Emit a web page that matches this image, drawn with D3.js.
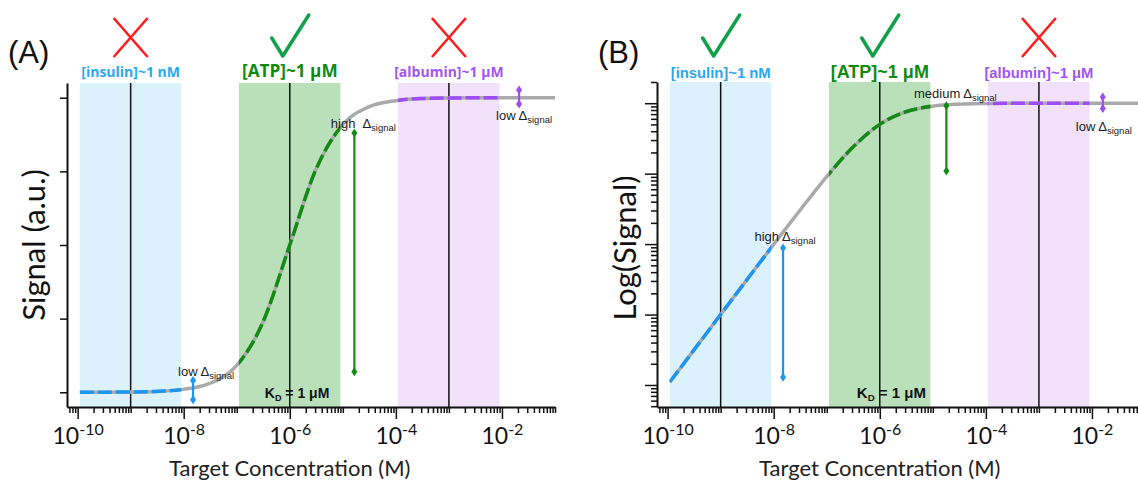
<!DOCTYPE html>
<html>
<head>
<meta charset="utf-8">
<script src="https://cdn.jsdelivr.net/npm/d3@7"></script>
<style>
  body { margin: 0; background: #fff; }
  svg { display: block; }
</style>
</head>
<body>
<div class="container"></div>
<script>
// concentration (M) and normalised signal
var conc   = [1.1e-10, 3e-10, 1e-9, 3e-9, 1e-8, 3e-8, 1e-7, 3e-7, 1e-6, 3e-6, 1e-5, 3e-5, 1e-4, 3e-4, 1e-3, 3e-3, 1e-2, 3e-2, 1e-1];
var signal = [0.00011, 0.0003, 0.001, 0.003, 0.0099, 0.029, 0.091, 0.231, 0.5, 0.75, 0.909, 0.968, 0.990, 0.997, 0.999, 0.9997, 0.9999, 1.0, 1.0];

// the three targets and their concentration windows
var targets    = ["[insulin]~1 nM", "[ATP]~1 μM", "[albumin]~1 μM"];
var targetConc = [1e-9, 1e-6, 1e-3];
var bandLow    = [1.1e-10, 1.1e-7, 1.1e-4];
var bandHigh   = [9e-9, 9e-6, 9e-3];
var verdictA   = [false, true, false];
var verdictB   = [true, true, false];

// delta signal arrows
var deltaA     = ["low", "high", "low"];
var arrowConcA = [1.5e-8, 1.65e-5, 2.1e-2];
var arrowLowA  = [-0.025, 0.07, 0.979];
var arrowHighA = [0.04, 0.88, 1.026];
var deltaB     = ["high", "medium", "low"];
var arrowConcB = [1.5e-8, 1.8e-5, 1.6e-2];
var arrowLowB  = [1.29e-4, 0.109, 0.84];
var arrowHighB = [8.8e-3, 0.92, 1.22];

var xLabelExp = [-10, -8, -6, -4, -2];
var yTicksA   = [0, 0.25, 0.5, 0.75, 1];
var KD = 1e-6;

var bandFill   = ["#dbf1fc", "#b9e0b9", "#f1e1fb"];
var lineColor  = ["#1e96f0", "#138a13", "#9d4cf8"];
var labelColor = ["#27a8f2", "#108a10", "#a055f5"];

var width = 1138, height = 483;

var svg = d3.select(".container").append("svg")
    .attr("width", width)
    .attr("height", height);

var defs = svg.append("defs");
lineColor.forEach(function(c, i) {
  defs.append("marker")
      .attr("id", "dia" + i)
      .attr("viewBox", "-5 -5 10 10")
      .attr("markerUnits", "userSpaceOnUse")
      .attr("markerWidth", 10).attr("markerHeight", 10)
      .attr("orient", "auto")
    .append("path")
      .attr("d", "M-4.5,0L0,-3L4.5,0L0,3Z")
      .attr("fill", c);
});

// all log ticks inside a domain
function logTicks(lo, hi) {
  var t = [];
  for (var e = Math.floor(Math.log10(lo)); e <= Math.ceil(Math.log10(hi)); e++)
    for (var m = 1; m < 10; m++) {
      var v = m * Math.pow(10, e);
      if (v >= lo * 0.9999 && v <= hi * 1.0001) t.push(v);
    }
  return t;
}
function isDecade(v) { return Math.abs(Math.log10(v) - Math.round(Math.log10(v))) < 1e-6; }

function panel(o) {
  var g = svg.append("g");
  var x = d3.scaleLog().domain([Math.pow(10, -10.2), 1e-1]).range([o.left, o.left + 488]);
  var y = o.y;
  var top = y.range()[1], bottom = y.range()[0];

  // shaded windows
  g.append("g").selectAll("rect").data(targets).join("rect")
      .attr("x", (d, i) => x(bandLow[i]))
      .attr("width", (d, i) => x(bandHigh[i]) - x(bandLow[i]))
      .attr("y", top).attr("height", bottom - top)
      .attr("fill", (d, i) => bandFill[i]);

  // target concentration lines
  g.append("g").selectAll("line").data(targetConc).join("line")
      .attr("x1", d => x(d)).attr("x2", d => x(d))
      .attr("y1", top).attr("y2", bottom)
      .attr("stroke", "#111").attr("stroke-width", 1.5);

  // labels above
  g.append("g").selectAll("text").data(targets).join("text")
      .attr("x", (d, i) => x(targetConc[i]))
      .attr("y", o.labelY)
      .attr("text-anchor", "middle")
      .style("font-family", o.labelFont)
      .style("font-weight", "bold")
      .style("font-size", (d, i) => (i == 1 ? o.labelSize + 3.2 : o.labelSize) + "px")
      .attr("fill", (d, i) => labelColor[i])
      .text(d => d);

  // verdict marks
  o.verdict.forEach(function(ok, i) {
    var cx = x(targetConc[i]), cy = 37;
    if (ok) {
      g.append("path")
          .attr("d", `M${cx - 18},${cy + 1}L${cx - 7},${cy + 19}L${cx + 19},${cy - 22}`)
          .attr("fill", "none").attr("stroke", "#10a04a")
          .attr("stroke-width", 3.5).attr("stroke-linejoin", "round").attr("stroke-linecap", "round");
    } else {
      g.append("path")
          .attr("d", `M${cx - 17},${cy - 19}L${cx + 17},${cy + 20}M${cx + 17},${cy - 19}L${cx - 17},${cy + 20}`)
          .attr("stroke", "#ff1c1c").attr("stroke-width", 2.6);
    }
  });

  // curve
  var line = d3.line()
      .x((d, i) => x(conc[i]))
      .y(d => y(d))
      .curve(d3.curveMonotoneX);

  g.append("path").datum(signal)
      .attr("d", line)
      .attr("fill", "none").attr("stroke", "#aaaaaa").attr("stroke-width", 3.5);

  targets.forEach(function(t, i) {
    var id = "clip" + o.name + i;
    defs.append("clipPath").attr("id", id).append("rect")
        .attr("x", x(bandLow[i])).attr("width", x(bandHigh[i]) - x(bandLow[i]))
        .attr("y", 0).attr("height", height);
    g.append("path").datum(signal)
        .attr("d", line)
        .attr("clip-path", `url(#${id})`)
        .attr("fill", "none").attr("stroke", lineColor[i])
        .attr("stroke-width", 3.5).attr("stroke-dasharray", "14,4");
  });

  // delta arrows
  g.append("g").selectAll("line").data(o.arrowConc).join("line")
      .attr("x1", d => x(d)).attr("x2", d => x(d))
      .attr("y1", (d, i) => y(o.arrowLow[i]))
      .attr("y2", (d, i) => y(o.arrowHigh[i]))
      .attr("stroke", (d, i) => lineColor[i]).attr("stroke-width", 2.2)
      .attr("marker-start", (d, i) => `url(#dia${i})`)
      .attr("marker-end", (d, i) => `url(#dia${i})`);

  var dl = g.append("g").selectAll("text").data(o.delta).join("text")
      .attr("x", (d, i) => x(o.arrowConc[i]) + o.deltaDx[i])
      .attr("y", (d, i) => o.deltaDy[i] < 0 ? y(o.arrowHigh[i]) + o.deltaDy[i] : y(o.arrowLow[i]) + o.deltaDy[i])
      .attr("text-anchor", "middle")
      .style("font-family", "'Liberation Sans', Arial, sans-serif")
      .style("font-size", "13px")
      .attr("fill", "#222");
  dl.append("tspan").text(d => d);
  dl.append("tspan").attr("dx", (d, i) => o.name == "A" && i == 1 ? 7 : 3).text("Δ");
  dl.append("tspan").attr("dy", 3).style("font-size", "9.5px").text("signal");

  // KD label
  var kd = g.append("text")
      .attr("x", x(KD) - o.kdShift).attr("y", 398)
      .style("font-family", "'Liberation Sans', Arial, sans-serif")
      .style("font-weight", "bold")
      .style("font-size", o.kdSize + "px")
      .attr("fill", "#111");
  kd.append("tspan").text("K");
  kd.append("tspan").attr("dy", 3).style("font-size", (o.kdSize * 0.65) + "px").text("D");
  kd.append("tspan").attr("dy", -3).text(" = 1 μM");

  // x axis
  var xt = logTicks(x.domain()[0], x.domain()[1]);
  var xAxis = g.append("g")
      .attr("transform", `translate(0,${bottom})`)
      .call(d3.axisBottom(x).tickValues(xt).tickFormat("").tickSize(6).tickSizeOuter(0));
  xAxis.selectAll(".tick line")
      .attr("y2", d => xLabelExp.indexOf(Math.round(Math.log10(d))) >= 0 && isDecade(d) ? 12 : 6);
  var xl = xAxis.selectAll(".tick")
      .filter(d => isDecade(d) && xLabelExp.indexOf(Math.round(Math.log10(d))) >= 0)
      .append("text")
      .attr("y", 37)
      .attr("fill", "#111")
      .attr("text-anchor", "middle")
      .style("font-family", "Lato, sans-serif")
      .style("font-size", "23px");
  xl.append("tspan").text("10");
  xl.append("tspan").attr("dy", -9).style("font-size", "16px").text(d => Math.round(Math.log10(d)));

  // y axis
  g.append("g")
      .attr("transform", `translate(${o.left},0)`)
      .call(o.yAxis);

  g.selectAll(".domain, .tick line").attr("stroke", "#111");
  g.selectAll(".domain").attr("stroke-width", 2);
  g.selectAll(".tick line").attr("stroke-width", 1.5);

  // titles
  g.append("text")
      .attr("x", x(KD)).attr("y", 476)
      .attr("text-anchor", "middle")
      .style("font-family", "Lato, sans-serif")
      .style("font-size", "22px")
      .attr("fill", "#222")
      .text("Target Concentration (M)");

  g.append("text")
      .attr("transform", `translate(${o.yTitleX},${o.yTitleY}) rotate(-90)`)
      .attr("text-anchor", "middle")
      .style("font-family", "Lato, sans-serif")
      .style("font-size", "31px")
      .attr("fill", "#111")
      .text(o.yTitle);

  g.append("text")
      .attr("x", o.left - 59).attr("y", 63)
      .style("font-family", "'Liberation Sans', Arial, sans-serif")
      .style("font-size", "31px")
      .attr("fill", "#111")
      .text(o.tag);
}

// panel A: linear signal
var yA = d3.scaleLinear().domain([-0.05, 1.05]).range([407, 83]);
panel({
  name: "A", tag: "(A)", left: 67, y: yA,
  yAxis: d3.axisLeft(yA).tickValues(yTicksA).tickFormat("").tickSize(7).tickSizeOuter(0),
  verdict: verdictA,
  labelY: 77, labelFont: "'Open Sans', sans-serif", labelSize: 14,
  delta: deltaA, arrowConc: arrowConcA, arrowLow: arrowLowA, arrowHigh: arrowHighA,
  deltaDx: [13, 9, 5], deltaDy: [-4, -5, 16],
  kdShift: 25, kdSize: 14,
  yTitle: "Signal (a.u.)", yTitleX: 45, yTitleY: 245
});

// panel B: log signal
var yB = d3.scaleLog().domain([4.87e-5, 2]).range([407, 82]);
var yTicksB = logTicks(4.87e-5, 2);
var yAxisB = function(sel) {
  sel.call(d3.axisLeft(yB).tickValues(yTicksB).tickFormat("").tickSize(6).tickSizeOuter(0));
  sel.selectAll(".tick line").attr("x2", d => isDecade(d) ? -12 : -6);
};
panel({
  name: "B", tag: "(B)", left: 657, y: yB,
  yAxis: yAxisB,
  verdict: verdictB,
  labelY: 78, labelFont: "'Liberation Sans', Arial, sans-serif", labelSize: 14.8,
  delta: deltaB, arrowConc: arrowConcB, arrowLow: arrowLowB, arrowHigh: arrowHighB,
  deltaDx: [2, 9, 1], deltaDy: [-7, -8, 22],
  kdShift: 23, kdSize: 15,
  yTitle: "Log(Signal)", yTitleX: 636, yTitleY: 248
});
</script>
</body>
</html>
